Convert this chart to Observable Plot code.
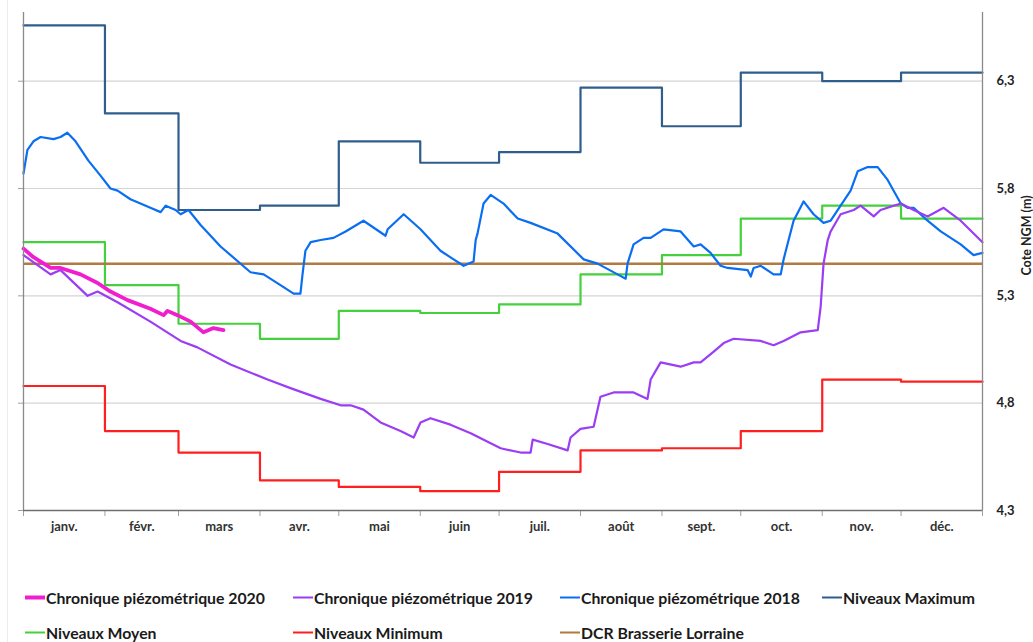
<!DOCTYPE html>
<html>
<head>
<meta charset="utf-8">
<script src="https://cdn.jsdelivr.net/npm/d3@7"></script>
<script src="https://cdn.jsdelivr.net/npm/@observablehq/plot@0.6"></script>
<style>
  body { margin: 0; background: #fff; }
  #wrap { position: relative; width: 1033px; height: 642px; background: #fff; overflow: hidden; font-family: Lato, "Open Sans", sans-serif; }
  #frame { position: absolute; left: 7px; top: 0; width: 1px; height: 642px; background: #ececec; }
  #chart { position: absolute; left: 0; top: 0; }
  .leg { position: absolute; display: flex; align-items: center; font-size: 15.8px; font-weight: 700; color: #1a1a1a; white-space: nowrap; transform: translateY(-50%); }
  .sw { display: inline-block; width: 20px; margin-right: 1px; }
</style>
</head>
<body>
<div id="wrap"><div id="frame"></div><div id="chart"></div><div id="legend"></div></div>
<script>
// ---- data ----
const monthStarts = [0,31,59,90,120,151,181,212,243,273,304,334];
const yearEnd = 365;
const monthNames = ["janv.","févr.","mars","avr.","mai","juin","juil.","août","sept.","oct.","nov.","déc."];
const yTicks = [4.3,4.8,5.3,5.8,6.3];

const maxLevels  = [6.56,6.15,5.70,5.72,6.02,5.92,5.97,6.27,6.09,6.34,6.30,6.34];
const meanLevels = [5.55,5.35,5.17,5.10,5.23,5.22,5.26,5.40,5.49,5.66,5.72,5.66];
const minLevels  = [4.88,4.67,4.57,4.44,4.41,4.39,4.48,4.58,4.59,4.67,4.91,4.90];
const dcrLevel = 5.45;

const days2018 = [0,1.5,3.8,6.5,11.4,14.1,16.7,19.8,24.7,29.3,33.1,35.8,40.7,48.3,52.2,54.1,57.9,59.8,62.8,67.4,75.0,86.4,91.4,97.8,102.8,105.4,106.2,107.3,109.3,113.1,118.0,122.6,129.4,137.8,138.6,144.7,151.1,158.7,163.7,167.5,171.3,172.1,172.8,175.1,177.8,182.7,188.1,193.0,203.3,213.2,218.5,226.1,229.2,229.9,232.2,236.0,238.7,243.6,250.1,255.1,257.7,261.5,265.3,268.0,275.6,276.8,277.9,280.6,285.5,288.2,289.3,291.2,293.1,296.9,300.7,304.5,307.2,314.8,317.5,321.3,325.1,328.9,333.9,336.5,338.8,344.1,349.1,356.7,361.6,365];
const vals2018 = [5.87,5.98,6.02,6.04,6.03,6.04,6.06,6.02,5.93,5.86,5.80,5.79,5.75,5.71,5.69,5.72,5.70,5.68,5.70,5.63,5.53,5.41,5.40,5.35,5.31,5.31,5.40,5.51,5.55,5.56,5.57,5.60,5.65,5.58,5.61,5.68,5.61,5.51,5.47,5.44,5.46,5.56,5.59,5.73,5.77,5.73,5.66,5.64,5.59,5.47,5.45,5.40,5.38,5.45,5.54,5.57,5.57,5.61,5.60,5.53,5.54,5.50,5.44,5.43,5.42,5.39,5.43,5.44,5.40,5.40,5.47,5.56,5.65,5.74,5.68,5.64,5.65,5.79,5.88,5.90,5.90,5.84,5.73,5.71,5.71,5.65,5.60,5.54,5.49,5.50];

const days2019 = [0,10.3,14.1,24.4,28.2,35.8,48.3,59.8,66.2,78.8,92.9,101.6,113.1,120.7,124.5,129.4,135.9,143.5,148.5,151.1,154.9,162.5,170.2,181.6,189.2,193.0,193.8,199.5,207.1,208.2,212.0,217.0,219.6,224.6,232.2,237.5,238.7,242.5,250.1,255.1,257.7,262.7,266.5,270.3,280.6,285.5,289.3,295.8,302.3,303.4,304.5,306.1,307.2,311.0,316.0,318.6,323.6,326.2,331.2,333.9,338.8,344.1,350.2,356.7,365];
const vals2019 = [5.49,5.40,5.42,5.30,5.32,5.27,5.18,5.09,5.06,4.98,4.91,4.87,4.82,4.79,4.79,4.77,4.71,4.67,4.64,4.71,4.73,4.70,4.66,4.59,4.57,4.57,4.63,4.61,4.58,4.64,4.68,4.69,4.83,4.85,4.85,4.82,4.91,4.99,4.97,4.99,4.99,5.04,5.08,5.10,5.09,5.07,5.09,5.13,5.14,5.25,5.45,5.56,5.60,5.68,5.70,5.72,5.67,5.70,5.72,5.73,5.70,5.67,5.71,5.65,5.55];

const days2020 = [0,3.8,10.3,14.1,21.7,28.2,33.1,39.6,48.3,53.3,54.8,58.6,63.6,68.5,72.3,76.1];
const vals2020 = [5.52,5.48,5.43,5.43,5.40,5.36,5.32,5.28,5.24,5.21,5.23,5.21,5.18,5.13,5.15,5.14];

// ---- series definitions ----
const C = {
  s2020: "#f01ecf", s2019: "#9b3df5", s2018: "#0a6ef2",
  max: "#2f5d8c", mean: "#45d03d", min: "#ff1f1f", dcr: "#b07a40"
};
const stepData = (levels) => [...monthStarts.map((d, i) => ({d, v: levels[i]})), {d: yearEnd, v: levels[levels.length - 1]}];
const seriesData = (days, vals) => days.map((d, i) => ({d, v: vals[i]}));
const monthMid = monthStarts.map((d, i) => (d + (monthStarts[i + 1] ?? yearEnd)) / 2);
const fmt = v => v.toFixed(1).replace(".", ",");

const plot = Plot.plot({
  width: 1033, height: 545,
  marginLeft: 23, marginRight: 51, marginTop: 12, marginBottom: 35,
  style: { fontFamily: "Lato, 'Open Sans', sans-serif", background: "transparent" },
  x: { type: "linear", domain: [0, yearEnd] },
  y: { domain: [4.3, 6.62] },
  marks: [
    Plot.gridY(yTicks, { stroke: "#d4d4d4", strokeOpacity: 1, strokeWidth: 1.2 }),
    Plot.axisY(yTicks, { anchor: "left", tickSize: 5, tickFormat: () => "", stroke: "#a0a0a0", label: null }),
    Plot.axisY(yTicks, { anchor: "right", tickSize: 0, tickPadding: 14, tickFormat: fmt, fontSize: 13, fontWeight: 700, fill: "#222", label: null }),
    Plot.axisX([...monthStarts, yearEnd], { tickSize: 6, tickFormat: () => "", stroke: "#a0a0a0", label: null }),
    Plot.axisX(monthMid, { tickSize: 0, tickPadding: 11, tickFormat: (d, i) => monthNames[i], fontSize: 13, fontWeight: 700, fill: "#333", label: null }),
    Plot.text(["Cote NGM (m)"], { frameAnchor: "right", textAnchor: "middle", dx: 44, dy: -26, rotate: -90, fontSize: 12.5, fontWeight: 700, fill: "#222" }),
    Plot.line(stepData(maxLevels), { x: "d", y: "v", curve: "step-after", stroke: C.max, strokeWidth: 2.2 }),
    Plot.line(stepData(meanLevels), { x: "d", y: "v", curve: "step-after", stroke: C.mean, strokeWidth: 2.2 }),
    Plot.line(stepData(minLevels), { x: "d", y: "v", curve: "step-after", stroke: C.min, strokeWidth: 2.2 }),
    Plot.ruleY([dcrLevel], { stroke: C.dcr, strokeWidth: 2.5 }),
    Plot.line(seriesData(days2018, vals2018), { x: "d", y: "v", stroke: C.s2018, strokeWidth: 2.2, strokeLinejoin: "round" }),
    Plot.line(seriesData(days2019, vals2019), { x: "d", y: "v", stroke: C.s2019, strokeWidth: 2.2, strokeLinejoin: "round" }),
    Plot.line(seriesData(days2020, vals2020), { x: "d", y: "v", stroke: C.s2020, strokeWidth: 3.8, strokeLinejoin: "round" }),
    Plot.ruleX([0], { stroke: "#8a8a8a", strokeWidth: 1.3 }),
    Plot.ruleX([yearEnd], { stroke: "#8a8a8a", strokeWidth: 1.3 }),
    Plot.ruleY([4.3], { stroke: "#6f6f6f", strokeWidth: 1.3 })
  ]
});
document.getElementById("chart").appendChild(plot);

// ---- legend ----
const legendItems = [
  { label: "Chronique piézométrique 2020", color: C.s2020, w: 4, x: 25, y: 597 },
  { label: "Chronique piézométrique 2019", color: C.s2019, w: 2, x: 293, y: 597 },
  { label: "Chronique piézométrique 2018", color: C.s2018, w: 2, x: 560, y: 597 },
  { label: "Niveaux Maximum", color: C.max, w: 2, x: 822, y: 597 },
  { label: "Niveaux Moyen", color: C.mean, w: 2, x: 25, y: 632 },
  { label: "Niveaux Minimum", color: C.min, w: 2, x: 293, y: 632 },
  { label: "DCR Brasserie Lorraine", color: C.dcr, w: 2, x: 560, y: 632 }
];
const leg = document.getElementById("legend");
for (const it of legendItems) {
  const el = document.createElement("div");
  el.className = "leg";
  el.style.left = it.x + "px";
  el.style.top = it.y + "px";
  const sw = document.createElement("span");
  sw.className = "sw";
  sw.style.height = it.w + "px";
  sw.style.background = it.color;
  el.appendChild(sw);
  el.appendChild(document.createTextNode(it.label));
  leg.appendChild(el);
}
</script>
</body>
</html>
